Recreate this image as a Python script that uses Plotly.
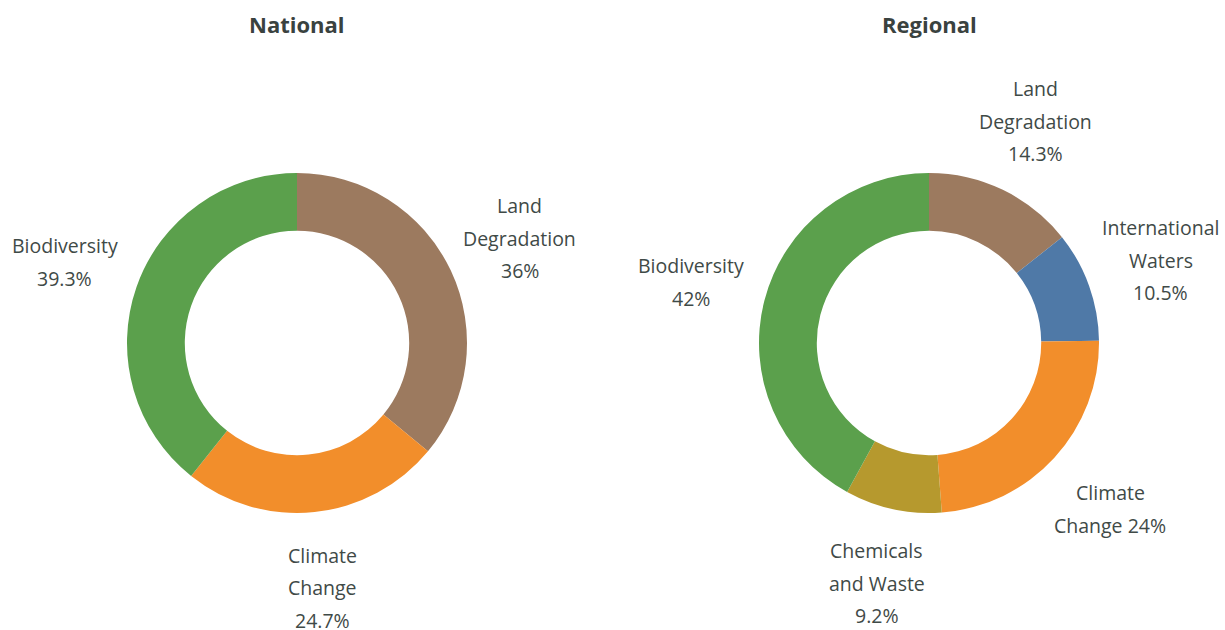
import math
import plotly.graph_objects as go

# ---- data ----
nat_categories = ["Land Degradation", "Climate Change", "Biodiversity"]
nat_values = [36, 24.7, 39.3]
nat_label_lines = [["Land", "Degradation"], ["Climate", "Change"], ["Biodiversity"]]

reg_categories = ["Land Degradation", "International Waters", "Climate Change",
                  "Chemicals and Waste", "Biodiversity"]
reg_values = [14.3, 10.5, 24, 9.2, 42]
reg_label_lines = [["Land", "Degradation"], ["International", "Waters"],
                   ["Climate", "Change"], ["Chemicals", "and Waste"], ["Biodiversity"]]
reg_pct_inline = [False, False, True, False, False]

color_map = {
    "Land Degradation": "#9C7A5F",
    "Climate Change": "#F28E2B",
    "Biodiversity": "#5BA04C",
    "International Waters": "#4F79A7",
    "Chemicals and Waste": "#B6992E",
}

W, H = 1225, 630
R = 170
TEXT = "#3f4a47"

charts = [
    dict(title="National", cx=297, cy=343, cats=nat_categories, vals=nat_values,
         lines=nat_label_lines, inline=[False] * 3),
    dict(title="Regional", cx=929, cy=343, cats=reg_categories, vals=reg_values,
         lines=reg_label_lines, inline=reg_pct_inline),
]

fig = go.Figure()
annotations = []
for ch in charts:
    cx, cy = ch["cx"], ch["cy"]
    fig.add_trace(go.Pie(
        labels=ch["cats"], values=ch["vals"], hole=0.66, sort=False,
        direction="clockwise", rotation=0, textinfo="none",
        marker=dict(colors=[color_map[c] for c in ch["cats"]], line=dict(width=0)),
        domain=dict(x=[(cx - R) / W, (cx + R) / W], y=[1 - (cy + R) / H, 1 - (cy - R) / H]),
        showlegend=False, hoverinfo="label+percent",
    ))
    annotations.append(dict(
        text="<b>%s</b>" % ch["title"], x=cx / W, y=1 - 24 / H, xref="paper", yref="paper",
        showarrow=False, font=dict(size=22, color="#3a423f", family="Open Sans"),
        xanchor="center", yanchor="middle"))
    total = sum(ch["vals"])
    cum = 0
    for cat, v, lines, inline in zip(ch["cats"], ch["vals"], ch["lines"], ch["inline"]):
        mid = (cum + v / 2) / total * 2 * math.pi
        cum += v
        rl = 246
        ax = cx + rl * math.sin(mid)
        ay = cy - rl * math.cos(mid)
        pct = f"{v:g}%"
        if inline:
            ls = lines[:-1] + [lines[-1] + " " + pct]
        else:
            ls = lines + [pct]
        n = len(ls)
        for i, t in enumerate(ls):
            py = ay + (i - (n - 1) / 2) * 32.5
            annotations.append(dict(
                text=t, x=ax / W, y=1 - py / H, xref="paper", yref="paper",
                showarrow=False, font=dict(size=19.5, color=TEXT, family="Open Sans"),
                xanchor="center", yanchor="middle"))

fig.update_layout(
    width=W, height=H, margin=dict(l=0, r=0, t=0, b=0),
    paper_bgcolor="white", plot_bgcolor="white",
    annotations=annotations,
)
fig.write_html("out.html", config={"displayModeBar": False},
               post_script="document.body.style.margin='0';document.body.style.padding='0';")
